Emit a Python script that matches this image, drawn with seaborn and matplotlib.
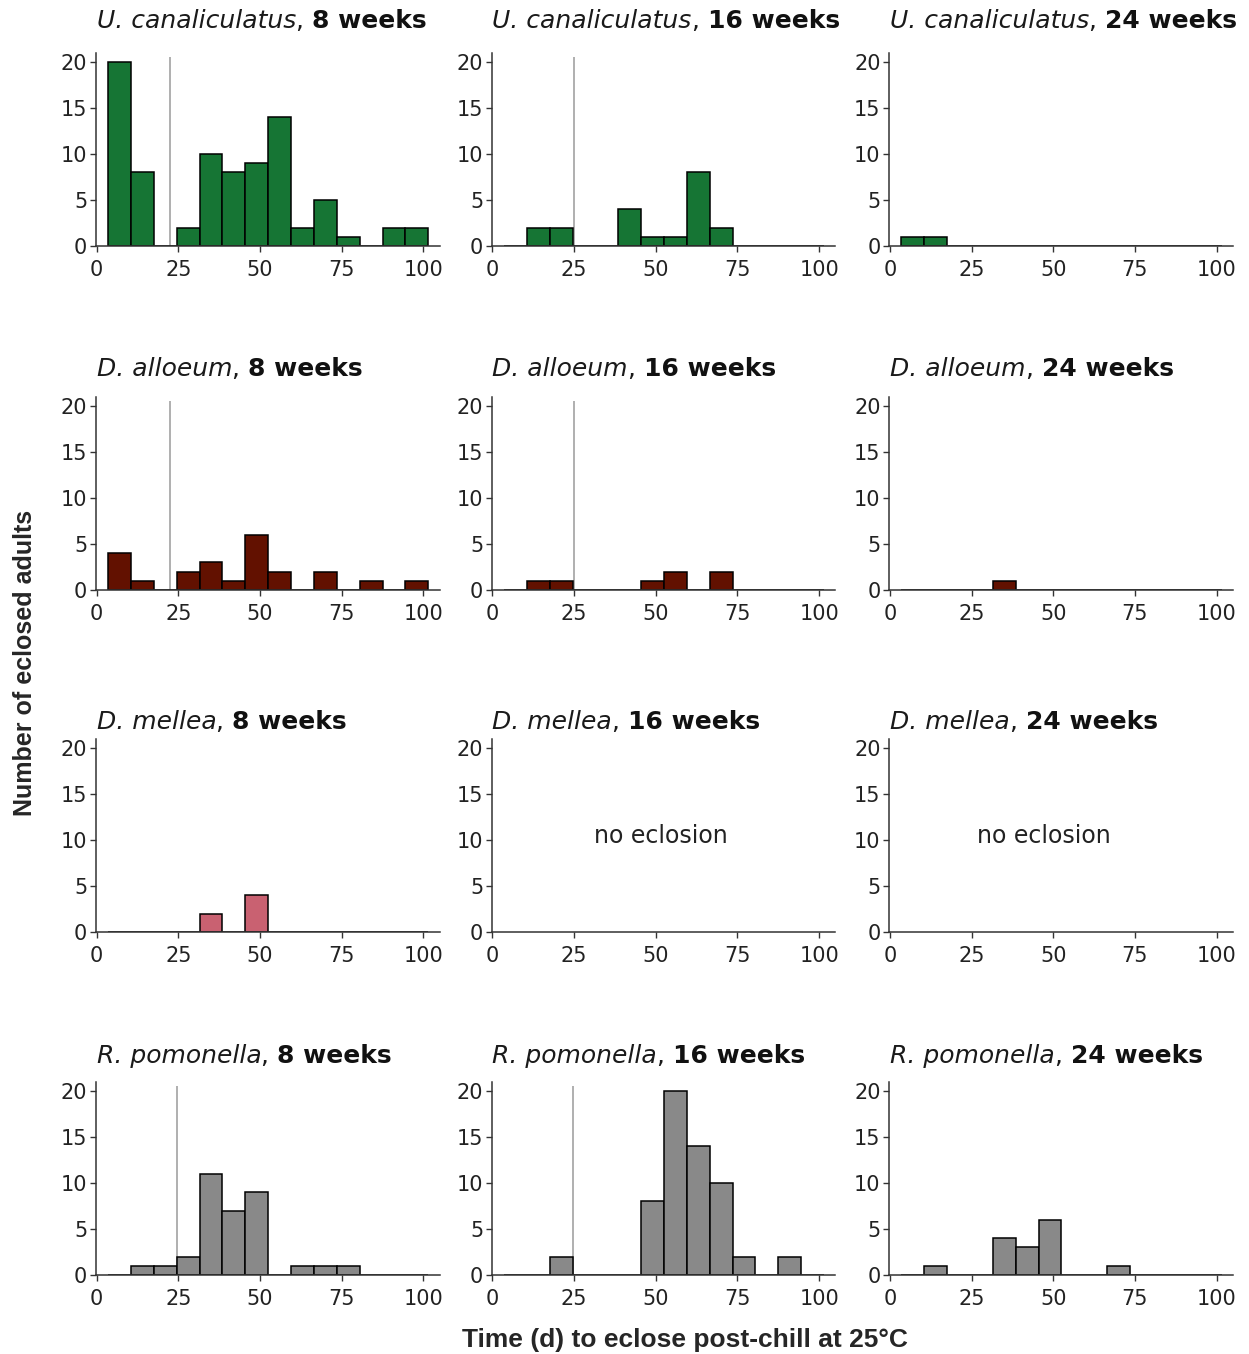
import numpy as np
import pandas as pd
import matplotlib
matplotlib.use("Agg")
import matplotlib.pyplot as plt
import seaborn as sns

sns.set_style("ticks")
plt.rcParams['font.family'] = ['DejaVu Sans']

# bins of 7 days, centred on 7, 14, ... 98
bin_edges = [3.5, 10.5, 17.5, 24.5, 31.5, 38.5, 45.5, 52.5, 59.5, 66.5, 73.5, 80.5, 87.5, 94.5, 101.5]
bin_centers = [7, 14, 21, 28, 35, 42, 49, 56, 63, 70, 77, 84, 91, 98]

species = ["U. canaliculatus", "D. alloeum", "D. mellea", "R. pomonella"]
weeks = ["8 weeks", "16 weeks", "24 weeks"]
colors = ["#167534", "#621100", "#c96171", "#898989"]

# counts per bin
uc_8 = [20, 8, 0, 2, 10, 8, 9, 14, 2, 5, 1, 0, 2, 2]
uc_16 = [0, 2, 2, 0, 0, 4, 1, 1, 8, 2, 0, 0, 0, 0]
uc_24 = [1, 1, 0, 0, 0, 0, 0, 0, 0, 0, 0, 0, 0, 0]
da_8 = [4, 1, 0, 2, 3, 1, 6, 2, 0, 2, 0, 1, 0, 1]
da_16 = [0, 1, 1, 0, 0, 0, 1, 2, 0, 2, 0, 0, 0, 0]
da_24 = [0, 0, 0, 0, 1, 0, 0, 0, 0, 0, 0, 0, 0, 0]
dm_8 = [0, 0, 0, 0, 2, 0, 4, 0, 0, 0, 0, 0, 0, 0]
dm_16 = [0] * 14
dm_24 = [0] * 14
rp_8 = [0, 1, 1, 2, 11, 7, 9, 0, 1, 1, 1, 0, 0, 0]
rp_16 = [0, 0, 2, 0, 0, 0, 8, 20, 14, 10, 2, 0, 2, 0]
rp_24 = [0, 1, 0, 0, 4, 3, 6, 0, 0, 1, 0, 0, 0, 0]

counts = [[uc_8, uc_16, uc_24],
          [da_8, da_16, da_24],
          [dm_8, dm_16, dm_24],
          [rp_8, rp_16, rp_24]]

# grey reference lines (None = no line)
vlines = [[22.5, 25, None],
          [22.5, 25, None],
          [None, None, None],
          [24.5, 24.5, None]]

no_eclosion_x = [[None, None, None], [None, None, None],
                 [None, 51.5, 47], [None, None, None]]

W, H = 1249, 1354
fig = plt.figure(figsize=(W / 100, H / 100), dpi=100)

col_left = [95.7, 491.5, 889]
row_base = [246, 590, 932, 1275]
title_base = [28, 376, 729, 1063]
ax_w, ax_h = 344, 193

for i in range(4):
    for j in range(3):
        ax = fig.add_axes([col_left[j] / W, (H - row_base[i]) / H, ax_w / W, ax_h / H])
        df = pd.DataFrame({"day": bin_centers, "n": counts[i][j]})
        df = df[df["n"] > 0]
        if len(df) > 0:
            sns.histplot(data=df, x="day", weights="n", bins=bin_edges, ax=ax,
                         color=colors[i], alpha=1, edgecolor="black", linewidth=1.1)
        if vlines[i][j] is not None:
            ax.vlines(vlines[i][j], 0, 20.6, color="#9a9a9a", lw=1.1, zorder=0)
        if no_eclosion_x[i][j] is not None:
            ax.text(no_eclosion_x[i][j], 10.4, "no eclosion", ha="center", va="center",
                    fontsize=17, color="#222222")
        ax.set_xlim(-0.3, 105)
        ax.set_ylim(0, 21)
        ax.set_xticks([0, 25, 50, 75, 100])
        ax.set_yticks([0, 5, 10, 15, 20])
        ax.set_xlabel("")
        ax.set_ylabel("")
        ax.tick_params(labelsize=15, length=4, width=1, colors="#333333",
                       labelcolor="#222222")
        ax.tick_params(axis="x", pad=6)
        ax.tick_params(axis="y", pad=2)
        sns.despine(ax=ax)
        for s in ["left", "bottom"]:
            ax.spines[s].set_color("#333333")
            ax.spines[s].set_linewidth(1.1)

        # title: italic species, plain comma, bold weeks
        tx = (col_left[j] + 1) / W
        ty = (H - title_base[i]) / H
        t1 = fig.text(tx, ty, species[i], fontsize=18, style="italic", color="#1a1a1a",
                      va="baseline", ha="left")
        t2 = ax.annotate(", ", xy=(1, 0), xycoords=t1, va="bottom", ha="left",
                         fontsize=18, color="#1a1a1a", annotation_clip=False)
        ax.annotate(weeks[j], xy=(1, 0), xycoords=t2, va="bottom", ha="left",
                    fontsize=18, fontweight="bold", color="#111111", annotation_clip=False)

fig.text(25 / W, (H - 663) / H, "Number of eclosed adults", rotation=90, ha="center",
         va="center", fontsize=18, fontweight="bold", family="Liberation Sans")
fig.text(685 / W, (H - 1340) / H, "Time (d) to eclose post-chill at 25°C", ha="center",
         va="center", fontsize=19, fontweight="bold", family="Liberation Sans")

fig.savefig("out.png", dpi=100)
